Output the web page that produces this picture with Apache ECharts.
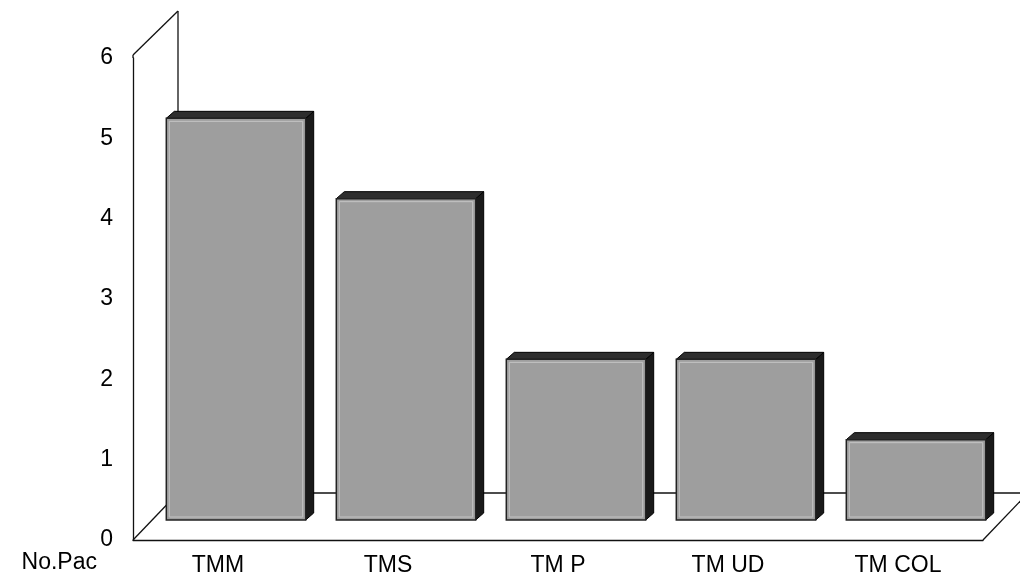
<!DOCTYPE html>
<html>
<head>
<meta charset="utf-8">
<script src="https://cdn.jsdelivr.net/npm/echarts@6/dist/echarts.min.js"></script>
<style>
  html, body { margin: 0; padding: 0; background: #fff; }
  #chart { width: 1020px; height: 580px; }
</style>
</head>
<body>
<div id="chart"></div>
<script>
// ---- data ----
const categories = ['TMM', 'TMS', 'TM P', 'TM UD', 'TM COL'];
const values = [5, 4, 2, 2, 1];
const yTicks = [0, 1, 2, 3, 4, 5, 6];
const yName = 'No.Pac';

// ---- style constants (3D look) ----
const FONT = "'Liberation Sans', Arial, sans-serif";
const DEPTH_X = 45, DEPTH_Y = -47;   // floor depth
const BAR_OX = 18, BAR_OY = -20;     // bar front plane offset from front plane
const BAR_DX = 8, BAR_DY = -7;       // bar own thickness
const BAR_RATIO = 0.82;

const chart = echarts.init(document.getElementById('chart'), null, { renderer: 'canvas' });

const frameSeries = {
  type: 'custom',
  coordinateSystem: 'cartesian2d',
  data: [[0, 0]],
  z: 1,
  silent: true,
  clip: false,
  renderItem: function (params, api) {
    const cs = params.coordSys;
    const L = cs.x, T = cs.y, R = cs.x + cs.width, B = cs.y + cs.height;
    const st = { stroke: '#111', lineWidth: 1.3, fill: null };
    const line = (x1, y1, x2, y2) => ({ type: 'line', shape: { x1, y1, x2, y2 }, style: st });
    return {
      type: 'group',
      children: [
        line(L + DEPTH_X, T + DEPTH_Y, L + DEPTH_X, B + DEPTH_Y),
        line(L + DEPTH_X, B + DEPTH_Y, R + DEPTH_X, B + DEPTH_Y),
        line(L, T - 3, L + DEPTH_X, T + DEPTH_Y),
        line(L, B, L + DEPTH_X, B + DEPTH_Y),
        line(R, B, R + DEPTH_X, B + DEPTH_Y),
        line(L, T - 3, L, T)
      ]
    };
  }
};

const barSeries = {
  type: 'custom',
  coordinateSystem: 'cartesian2d',
  data: values.map((v, i) => [i, v]),
  z: 3,
  clip: false,
  encode: { x: 0, y: 1 },
  renderItem: function (params, api) {
    const idx = api.value(0), v = api.value(1);
    const c0 = api.coord([idx, 0]);
    const c1 = api.coord([idx, v]);
    const bw = api.size([1, 0])[0] * BAR_RATIO;
    const x = c0[0] - bw / 2 + BAR_OX;
    const y = c1[1] + BAR_OY;
    const h = c0[1] - c1[1];
    return {
      type: 'group',
      children: [
        {
          type: 'polygon',
          shape: { points: [[x + bw, y], [x + bw + BAR_DX, y + BAR_DY], [x + bw + BAR_DX, y + h + BAR_DY], [x + bw, y + h]] },
          style: { fill: '#1a1a1a', stroke: '#000', lineWidth: 1 }
        },
        {
          type: 'polygon',
          shape: { points: [[x, y], [x + bw, y], [x + bw + BAR_DX, y + BAR_DY], [x + BAR_DX, y + BAR_DY]] },
          style: { fill: '#2e2e2e', stroke: '#000', lineWidth: 1 }
        },
        {
          type: 'rect',
          shape: { x: x, y: y, width: bw, height: h },
          style: { fill: '#9e9e9e', stroke: '#222', lineWidth: 1.5 }
        },
        {
          type: 'rect',
          shape: { x: x + 3, y: y + 3, width: bw - 6, height: h - 6 },
          style: { fill: null, stroke: '#c4c4c4', lineWidth: 1 }
        }
      ]
    };
  }
};

const option = {
  backgroundColor: '#ffffff',
  animation: false,
  grid: { left: 133, right: 37, top: 58, bottom: 40, containLabel: false },
  xAxis: {
    type: 'category',
    data: categories,
    boundaryGap: true,
    axisLine: { show: true, lineStyle: { color: '#111', width: 1.3 } },
    axisTick: { show: false },
    splitLine: { show: false },
    axisLabel: { color: '#000', fontSize: 23, fontFamily: FONT, margin: 14 }
  },
  yAxis: {
    type: 'value',
    min: yTicks[0],
    max: yTicks[yTicks.length - 1],
    interval: 1,
    name: yName,
    nameLocation: 'start',
    nameGap: 7,
    nameTextStyle: { color: '#000', fontSize: 23, fontFamily: FONT, align: 'right', verticalAlign: 'top', padding: [0, 36, 0, 0] },
    axisLine: { show: true, lineStyle: { color: '#111', width: 1.3 } },
    axisTick: { show: false },
    splitLine: { show: false },
    axisLabel: { color: '#000', fontSize: 23, fontFamily: FONT, margin: 20 }
  },
  series: [frameSeries, barSeries]
};

chart.setOption(option);
</script>
</body>
</html>
